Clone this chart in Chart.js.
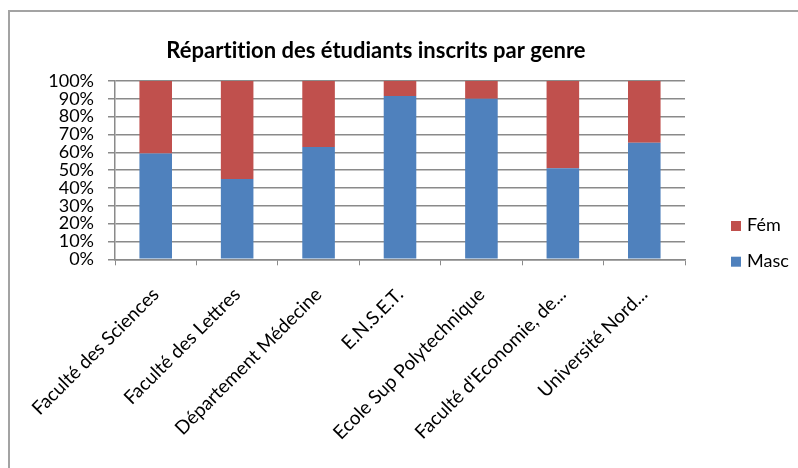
<!DOCTYPE html>
<html lang="fr">
<head>
  <meta charset="UTF-8" />
  <title>Répartition des étudiants inscrits par genre</title>
  <script src="https://cdn.jsdelivr.net/npm/chart.js"></script>
  <style>
    html, body {
      margin: 0;
      padding: 0;
      background: #ffffff;
    }
    #frame {
      position: absolute;
      left: 8px;
      top: 10px;
      width: 790px;
      height: 458px;
      border-top: 2px solid #a3a3a3;
      border-left: 2px solid #a3a3a3;
    }
    canvas {
      display: block;
    }
  </style>
</head>
<body>

<div id="frame">
  <canvas id="myChart" width="788" height="456"></canvas>
</div>

<script>
  // Data (percent of enrolled students)
  const categories = [
    'Faculté des Sciences',
    'Faculté des Lettres',
    'Département Médecine',
    'E.N.S.E.T.',
    'Ecole Sup Polytechnique',
    "Faculté d'Economie, de...",
    'Université Nord...'
  ];
  const mascValues = [59.4, 45.0, 63.0, 91.6, 90.1, 51.0, 65.4];
  const femValues = [40.6, 55.0, 37.0, 8.4, 9.9, 49.0, 34.6];
  const yTickLabels = ['0%', '10%', '20%', '30%', '40%', '50%', '60%', '70%', '80%', '90%', '100%'];
  const chartTitle = 'Répartition des étudiants inscrits par genre';

  const FONT = 'Lato';
  const gridColor = '#8a8a8a';

  // Title drawn over the plot, centred a bit left of the canvas like Excel does
  const titlePlugin = {
    id: 'excelTitle',
    afterDraw(chart) {
      const c = chart.ctx;
      c.save();
      c.font = 'bold 22px ' + FONT;
      c.letterSpacing = '0.01px'; // keeps Lato from joining "ti"
      c.fillStyle = '#000';
      c.textAlign = 'center';
      c.textBaseline = 'alphabetic';
      c.fillText(chartTitle, 366, 46);
      c.restore();
    }
  };

  // Legend on the right, reversed order (Fém above Masc)
  const legendPlugin = {
    id: 'excelLegend',
    afterDraw(chart) {
      const c = chart.ctx;
      const ds = chart.data.datasets.slice().reverse();
      c.save();
      c.font = '18px ' + FONT;
      c.textBaseline = 'alphabetic';
      c.textAlign = 'left';
      ds.forEach((d, i) => {
        const y = 209 + i * 35.7;
        c.fillStyle = d.backgroundColor;
        c.fillRect(721, y, 10, 10);
        c.fillStyle = '#000';
        c.fillText(d.label, 737, y + 10);
      });
      c.restore();
    }
  };

  const ctx = document.getElementById('myChart').getContext('2d');

  const myChart = new Chart(ctx, {
    type: 'bar',
    data: {
      labels: categories,
      datasets: [
        {
          label: 'Masc',
          data: mascValues,
          backgroundColor: '#4f81bd',
          borderWidth: 0,
          stack: 's'
        },
        {
          label: 'Fém',
          data: femValues,
          backgroundColor: '#c0504d',
          borderWidth: 0,
          stack: 's'
        }
      ]
    },
    options: {
      responsive: false,
      animation: false,
      layout: {
        padding: { left: 0, top: 69, right: 113, bottom: 0 }
      },
      datasets: {
        bar: {
          categoryPercentage: 1,
          barPercentage: 0.4
        }
      },
      scales: {
        x: {
          stacked: true,
          offset: true,
          grid: {
            offset: true,
            drawOnChartArea: false,
            drawTicks: true,
            tickLength: 6,
            color: gridColor
          },
          border: { display: true, color: gridColor, width: 1.5 },
          ticks: {
            autoSkip: false,
            maxRotation: 45,
            minRotation: 45,
            padding: 18,
            color: '#000',
            font: { family: FONT, size: 19 }
          },
          afterFit(scale) {
            // rotated labels may spill left, like in Excel; don't let them push the plot
            scale.height = 456 - 247.3;
            scale.paddingLeft = 0;
            scale.paddingRight = 0;
          }
        },
        y: {
          stacked: true,
          min: 0,
          max: 100,
          grid: {
            color: gridColor,
            lineWidth: 1.5,
            tickLength: 7
          },
          border: { display: true, color: gridColor, width: 1.5 },
          ticks: {
            stepSize: 10,
            autoSkip: false,
            padding: 14,
            color: '#000',
            font: { family: FONT, size: 18 },
            callback: (val, idx) => yTickLabels[idx]
          },
          afterFit(scale) {
            scale.width = 105;
          }
        }
      },
      plugins: {
        legend: { display: false },
        title: { display: false },
        tooltip: { enabled: false }
      }
    },
    plugins: [titlePlugin, legendPlugin]
  });
</script>

</body>
</html>
